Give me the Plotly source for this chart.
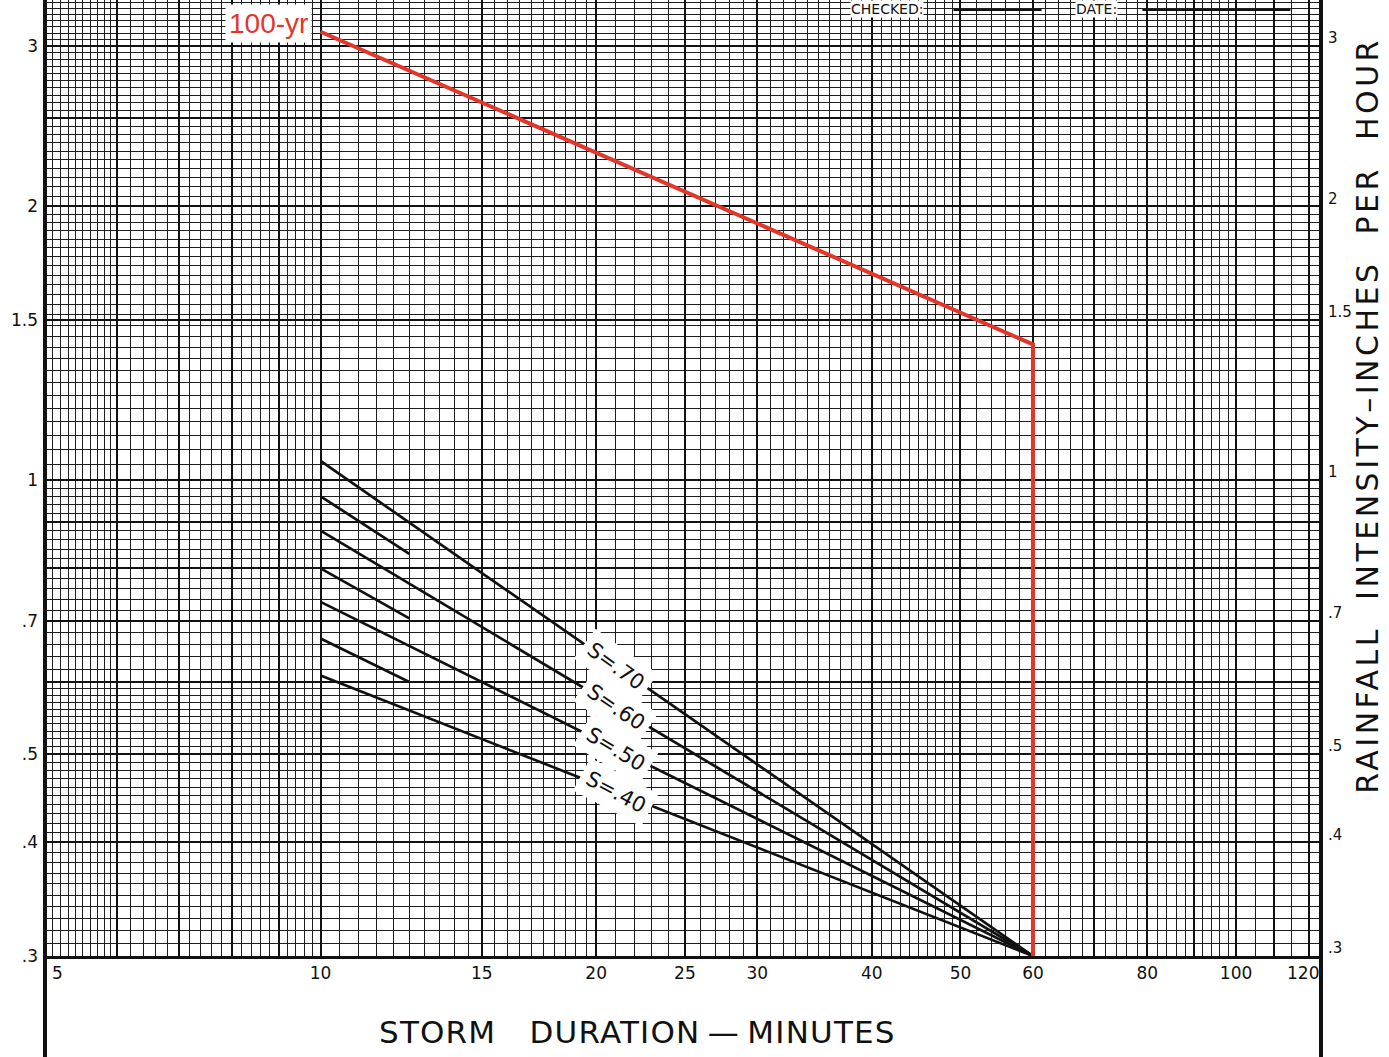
import numpy as np
import plotly.graph_objects as go

# ---- data: storm duration (minutes) vs rainfall intensity (in/hr) ----
s_labels = ["S=.70", "S=.60", "S=.50", "S=.40"]
s_duration = [10, 60]
s_start_intensity = [1.05, 0.88, 0.735, 0.61]
s_end_intensity = [0.30, 0.30, 0.30, 0.30]

# intermediate slopes, drawn only over the first few minutes
mid_duration = [10, 12.5]
mid_start_intensity = [0.96, 0.80, 0.67]
mid_end_intensity = [0.83, 0.705, 0.60]

# 100-year design curve
red_duration = [10, 60, 60]
red_intensity = [3.11, 1.41, 0.30]

# axis ticks
x_tick_vals = [5, 10, 15, 20, 25, 30, 40, 50, 60, 80, 100, 120]
x_tick_text = ["5", "10", "15", "20", "25", "30", "40", "50", "60", "80", "100", "120"]
y_tick_vals = [0.3, 0.4, 0.5, 0.7, 1, 1.5, 2, 3]
y_tick_text = [".3", ".4", ".5", ".7", "1", "1.5", "2", "3"]

# ---- log-log graph paper rulings ----
def ruling(a, b, step):
    return list(np.round(np.arange(a, b + step / 2, step), 4))

x_fine = (ruling(5, 6, 0.1) + ruling(6, 10, 0.2) + ruling(10, 20, 0.5)
          + ruling(20, 50, 1) + ruling(50, 100, 2) + ruling(100, 125, 5))
x_heavy = [5, 6, 7, 8, 9, 10, 15, 20, 25, 30, 40, 50, 60, 70, 80, 90, 100, 110, 120]
y_fine = (ruling(0.3, 0.6, 0.01) + ruling(0.6, 1, 0.02) + ruling(1, 2, 0.04)
          + ruling(2, 3.4, 0.05))
y_heavy = [0.3, 0.4, 0.5, 0.6, 0.7, 0.8, 0.9, 1, 1.5, 2, 2.5, 3]

x_range = [np.log10(5), 2.0928]
y_range = [np.log10(0.3), 0.5277]

label_font = "DejaVu Sans, Arial, sans-serif"
ink = "#111111"

fig = go.Figure()

# long S lines converging at 60 minutes
for y0, y1 in zip(s_start_intensity, s_end_intensity):
    fig.add_trace(go.Scatter(x=s_duration, y=[y0, y1], mode="lines",
                             line=dict(color=ink, width=2.7),
                             hoverinfo="skip", showlegend=False))

# short intermediate lines
for y0, y1 in zip(mid_start_intensity, mid_end_intensity):
    fig.add_trace(go.Scatter(x=mid_duration, y=[y0, y1], mode="lines",
                             line=dict(color=ink, width=2.7),
                             hoverinfo="skip", showlegend=False))

# 100-yr curve
fig.add_trace(go.Scatter(x=red_duration, y=red_intensity, mode="lines",
                         line=dict(color="#e3362b", width=4),
                         hoverinfo="skip", showlegend=False))

# carrier for the right-hand intensity scale
fig.add_trace(go.Scatter(x=[10], y=[1], yaxis="y2", mode="markers",
                         marker=dict(opacity=0), hoverinfo="skip",
                         showlegend=False))

# S labels placed on each line at 21 minutes (log interpolation)
label_x = 21.0
label_angles = [36, 34, 31, 28]
for name, y0, y1, ang in zip(s_labels, s_start_intensity, s_end_intensity,
                             label_angles):
    t = (np.log10(label_x) - np.log10(s_duration[0])) / \
        (np.log10(s_duration[1]) - np.log10(s_duration[0]))
    ly = 10 ** (np.log10(y0) + t * (np.log10(y1) - np.log10(y0)))
    fig.add_annotation(x=np.log10(label_x), y=np.log10(ly), text=name,
                       showarrow=False, textangle=ang,
                       font=dict(family=label_font, size=21, color=ink),
                       bgcolor="white", borderpad=6)

# 100-yr label
fig.add_annotation(x=np.log10(red_duration[0]), y=np.log10(3.18), text="100-yr",
                   showarrow=False, xanchor="right", xshift=-9,
                   font=dict(family="Liberation Sans, Arial, sans-serif",
                             size=28, color="#e3362b"),
                   bgcolor="white", borderpad=3)

# end-of-axis duration labels sit inside the borders
fig.add_annotation(x=np.log10(x_tick_vals[0]), y=0, yref="paper",
                   text=x_tick_text[0], showarrow=False, xanchor="left",
                   yanchor="top", xshift=5, yshift=-5,
                   font=dict(family=label_font, size=17, color=ink))
fig.add_annotation(x=np.log10(x_tick_vals[-1]), y=0, yref="paper",
                   text=x_tick_text[-1], showarrow=False, xanchor="center",
                   yanchor="top", xshift=-6, yshift=-5,
                   font=dict(family=label_font, size=17, color=ink))

# title-block text along the top edge
for txt, px in [("CHECKED:", 0.631), ("DATE:", 0.807)]:
    fig.add_annotation(xref="paper", yref="paper", x=px, y=1.0, text=txt,
                       showarrow=False, xanchor="left", yanchor="top",
                       font=dict(family=label_font, size=14, color=ink),
                       bgcolor="white", borderpad=0)
for x0, x1 in [(0.712, 0.781), (0.860, 0.976)]:
    fig.add_shape(type="line", xref="paper", yref="paper", x0=x0, x1=x1,
                  y0=0.9895, y1=0.9895, line=dict(color=ink, width=2))

# axis titles
fig.add_annotation(xref="paper", yref="paper", x=0.4647, y=-0.0795,
                   text='<span style="letter-spacing:1.2px">STORM\u00a0\u00a0\u00a0DURATION\u2009\u2014\u2009MINUTES</span>',
                   showarrow=False, xanchor="center", yanchor="middle",
                   font=dict(family=label_font, size=31, color=ink))
fig.add_annotation(xref="paper", yref="paper", x=1.0368, y=0.566,
                   text='<span style="letter-spacing:3.5px">RAINFALL\u00a0\u00a0INTENSITY\u2013INCHES\u00a0\u00a0PER\u00a0\u00a0HOUR</span>',
                   showarrow=False, textangle=-90, xanchor="center",
                   yanchor="middle",
                   font=dict(family=label_font, size=30, color=ink))

# heavy paper borders running down into the margin
for xp in [0, 1]:
    fig.add_shape(type="line", xref="paper", yref="paper", x0=xp, x1=xp,
                  y0=-0.11, y1=1.0, line=dict(color=ink, width=4))

fig.update_layout(
    width=1389, height=1057,
    margin=dict(l=45, r=68, t=0, b=101),
    paper_bgcolor="white", plot_bgcolor="white",
    xaxis=dict(type="log", range=x_range,
               tickmode="array", tickvals=x_heavy,
               ticktext=[x_tick_text[x_tick_vals.index(v)]
                         if v in x_tick_vals[1:-1] else "" for v in x_heavy],
               showgrid=True, gridcolor=ink, gridwidth=1.8,
               minor=dict(tickmode="array", tickvals=x_fine, showgrid=True,
                          gridcolor="#1e1e1e", gridwidth=1.2, ticks=""),
               ticks="", ticklabelstandoff=0,
               tickfont=dict(family=label_font, size=17, color=ink),
               showline=True, linecolor=ink, linewidth=3,
               zeroline=False, fixedrange=True),
    yaxis=dict(type="log", range=y_range,
               tickmode="array", tickvals=y_heavy,
               ticktext=[y_tick_text[y_tick_vals.index(v)] if v in y_tick_vals else ""
                         for v in y_heavy],
               showgrid=True, gridcolor=ink, gridwidth=1.8,
               minor=dict(tickmode="array", tickvals=y_fine, showgrid=True,
                          gridcolor="#1e1e1e", gridwidth=1.2, ticks=""),
               ticks="", ticklabelstandoff=6,
               tickfont=dict(family=label_font, size=17, color=ink),
               showline=False, zeroline=False, fixedrange=True),
    yaxis2=dict(type="log", range=y_range, overlaying="y", side="right",
                tickmode="array", tickvals=y_tick_vals, ticktext=y_tick_text,
                showgrid=False, ticks="", ticklabelstandoff=6,
                ticklabelshift=-8,
                tickfont=dict(family=label_font, size=15, color=ink),
                showline=False, zeroline=False, fixedrange=True),
)

fig.write_html("out.html")
